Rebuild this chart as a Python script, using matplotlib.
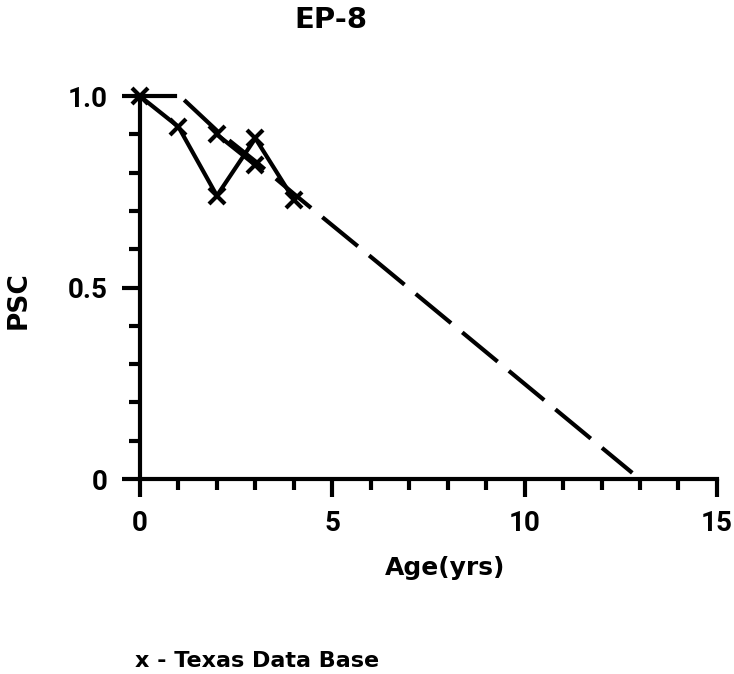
import matplotlib
matplotlib.use("Agg")
import matplotlib.pyplot as plt
from matplotlib.ticker import MultipleLocator

# Texas Data Base observations (x markers)
age_obs = [0, 1, 2, 3, 4]
psc_obs = [1.0, 0.92, 0.74, 0.89, 0.73]
age_obs2 = [2, 3]
psc_obs2 = [0.90, 0.82]

# model performance curve
age_flat = [0, 0.9]
psc_flat = [1.0, 1.0]
age_model = [1.15, 2.0, 3.0, 4.0, 6.2, 12.8]
psc_model = [0.99, 0.91, 0.83, 0.745, 0.564, 0.016]

plt.rcParams["font.family"] = ["DejaVu Sans"]
plt.rcParams["font.weight"] = "bold"

fig = plt.figure(figsize=(7.34, 6.74), dpi=100)
ax = fig.add_axes([0.1907, 0.2893, 0.786, 0.568])

ink = "black"
ax.plot(age_flat, psc_flat, color=ink, lw=3.0, clip_on=False)
ax.plot(age_model, psc_model, color=ink, lw=3.0, dashes=(11, 3.5), clip_on=False)
ax.plot(age_obs, psc_obs, color=ink, lw=3.0, marker="x", ms=12, mew=3,
        clip_on=False)
ax.plot(age_obs2, psc_obs2, color=ink, lw=3.0, marker="x", ms=12, mew=3,
        clip_on=False)

ax.set_xlim(0, 15)
ax.set_ylim(0, 1.0)
ax.set_xticks([0, 5, 10, 15])
ax.xaxis.set_minor_locator(MultipleLocator(1))
ax.set_yticks([0, 0.5, 1.0])
ax.set_yticklabels(["0", "0.5", "1.0"])
ax.yaxis.set_minor_locator(MultipleLocator(0.1))

for side in ("top", "right"):
    ax.spines[side].set_visible(False)
for side in ("left", "bottom"):
    ax.spines[side].set_linewidth(3.0)

ax.tick_params(which="major", direction="out", length=13, width=3,
               labelsize=20)
ax.tick_params(axis="x", which="major", pad=9)
ax.tick_params(axis="y", which="major", pad=10)
ax.tick_params(which="minor", direction="out", length=8, width=3)
for lab in ax.get_xticklabels() + ax.get_yticklabels():
    lab.set_family("Roboto")
    lab.set_fontweight("bold")

ax.set_xlabel("Age(yrs)", fontsize=18, fontweight="bold")
ax.xaxis.set_label_coords(0.529, -0.20)
ax.set_ylabel("PSC", fontsize=19, fontweight="bold")
ax.yaxis.set_label_coords(-0.187, 0.467)

fig.text(0.451, 0.970, "EP-8", ha="center", va="center", fontsize=21,
         fontweight="bold")
fig.text(0.184, 0.02, "x - Texas Data Base", ha="left", va="center",
         fontsize=16, fontweight="bold")

fig.savefig("out.png", dpi=100)
